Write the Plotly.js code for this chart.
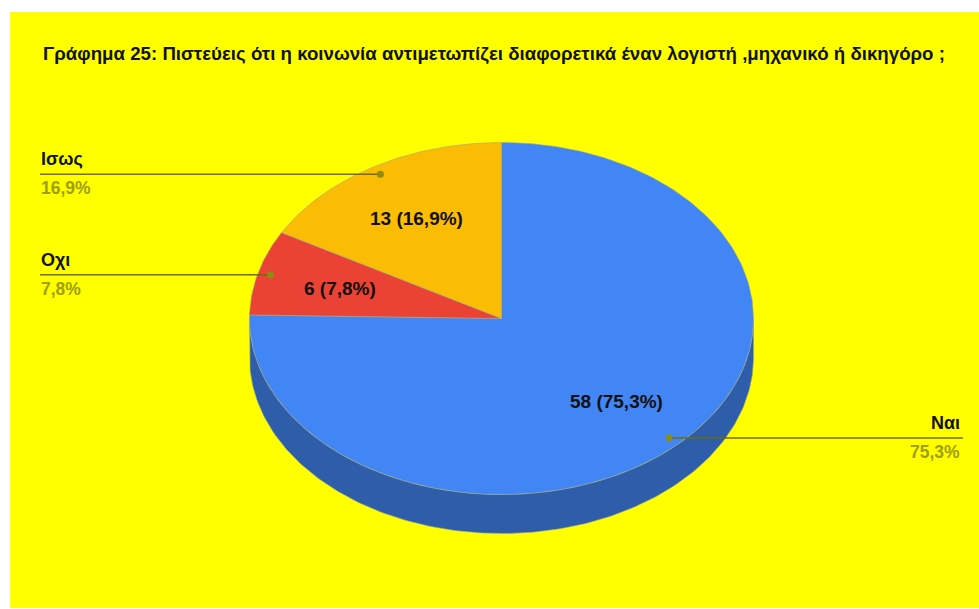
<!DOCTYPE html>
<html>
<head>
<meta charset="utf-8">
<script src="https://cdn.plot.ly/plotly-3.0.1.min.js"></script>
<style>html,body{margin:0;padding:0;background:#fff;}#chart{width:979px;height:609px;}</style>
</head>
<body>
<div id="chart"></div>
<script>
// Data
const categories = ["Ναι", "Οχι", "Ισως"];
const values = [58, 6, 13];
const topColors = ["#4285F4", "#EA4335", "#FBBC04"];
const sideColors = ["#2E5EAA", "#A4302A", "#B08503"];
const titleText = "Γράφημα 25: Πιστεύεις ότι η κοινωνία αντιμετωπίζει διαφορετικά έναν λογιστή ,μηχανικό ή δικηγόρο ;";

// Geometry (pixel-space axes)
const W = 979, H = 609;
const cx = 501.5, cy = 318.5, rx = 252, ry = 176, depth = 39;
const font = "Liberation Sans, Arial, sans-serif";

function pt(deg, r, dy) {
  const t = deg * Math.PI / 180;
  return [cx + r * rx * Math.sin(t), cy - r * ry * Math.cos(t) + (dy || 0)];
}
function arc(a0, a1, r, dy) {
  const n = Math.max(2, Math.ceil(Math.abs(a1 - a0) / 1));
  const xs = [], ys = [];
  for (let i = 0; i <= n; i++) {
    const p = pt(a0 + (a1 - a0) * i / n, r, dy);
    xs.push(p[0]); ys.push(p[1]);
  }
  return [xs, ys];
}

const total = values.reduce((a, b) => a + b, 0);
const traces = [];
const annotations = [];
let start = 0;
const slices = values.map((v, i) => {
  const a0 = start, a1 = start + v / total * 360;
  start = a1;
  return {i, a0, a1, mid: (a0 + a1) / 2, pct: v / total * 100};
});

// sides (front half 90..270 deg)
slices.forEach(s => {
  const s0 = Math.max(s.a0, 90), s1 = Math.min(s.a1, 270);
  if (s1 > s0) {
    const top = arc(s0, s1, 1, 0);
    const bot = arc(s1, s0, 1, depth);
    traces.push({
      type: "scatter", mode: "lines", fill: "toself",
      x: top[0].concat(bot[0]), y: top[1].concat(bot[1]),
      fillcolor: sideColors[s.i], line: {width: 0.6, color: "#9aa59a"},
      hoverinfo: "skip", showlegend: false
    });
  }
});
// top faces
slices.forEach(s => {
  const a = arc(s.a0, s.a1, 1, 0);
  traces.push({
    type: "scatter", mode: "lines", fill: "toself",
    x: [cx].concat(a[0], [cx]), y: [cy].concat(a[1], [cy]),
    fillcolor: topColors[s.i], line: {width: 0.6, color: "#a0a890"},
    name: categories[s.i], hoverinfo: "name", showlegend: false
  });
});

const fmt = p => p.toFixed(1).replace(".", ",") + "%";

slices.forEach(s => {
  // inside label
  const lp = pt(s.mid, 0.66, 0);
  annotations.push({
    x: lp[0] - 1, y: lp[1], xref: "x", yref: "y", showarrow: false,
    text: "<b>" + values[s.i] + " (" + fmt(s.pct) + ")</b>",
    font: {family: font, size: 19, color: "#111"}
  });
  // leader
  const dp = pt(s.mid, 0.95, 0);
  const right = Math.sin(s.mid * Math.PI / 180) > 0;
  const endX = right ? 963 : 40;
  traces.push({
    type: "scatter", mode: "lines",
    x: [dp[0], endX], y: [dp[1], dp[1]],
    line: {color: "#6E6E00", width: 1.5}, hoverinfo: "skip", showlegend: false
  });
  traces.push({
    type: "scatter", mode: "markers",
    x: [dp[0]], y: [dp[1]],
    marker: {color: "#8C8C10", size: 7}, hoverinfo: "skip", showlegend: false
  });
  annotations.push({
    x: right ? 962 : 39, y: dp[1] - 3, xref: "x", yref: "y", showarrow: false,
    xanchor: right ? "right" : "left", yanchor: "bottom",
    text: "<b>" + categories[s.i] + "</b>",
    font: {family: font, size: 18, color: "#111"}
  });
  annotations.push({
    x: right ? 962 : 39, y: dp[1] + 2, xref: "x", yref: "y", showarrow: false,
    xanchor: right ? "right" : "left", yanchor: "top",
    text: "<b>" + fmt(s.pct) + "</b>",
    font: {family: font, size: 17.5, color: "#9E9E00"}
  });
});

annotations.push({
  x: 41, y: 54, xref: "x", yref: "y", showarrow: false, xanchor: "left", yanchor: "middle",
  text: "<b>" + titleText + "</b>",
  font: {family: font, size: 18.7, color: "#111"}
});

const layout = {
  width: W, height: H,
  margin: {l: 0, r: 0, t: 0, b: 0, pad: 0},
  paper_bgcolor: "#ffffff", plot_bgcolor: "#ffffff",
  xaxis: {range: [0, W], visible: false, fixedrange: true},
  yaxis: {range: [H, 0], visible: false, fixedrange: true},
  shapes: [{type: "rect", xref: "x", yref: "y", x0: 10, x1: W, y0: 12, y1: 608,
            fillcolor: "#FFFF00", line: {width: 0}, layer: "below"}],
  annotations: annotations,
  showlegend: false
};
Plotly.newPlot("chart", traces, layout, {displayModeBar: false, staticPlot: true});
</script>
</body>
</html>
